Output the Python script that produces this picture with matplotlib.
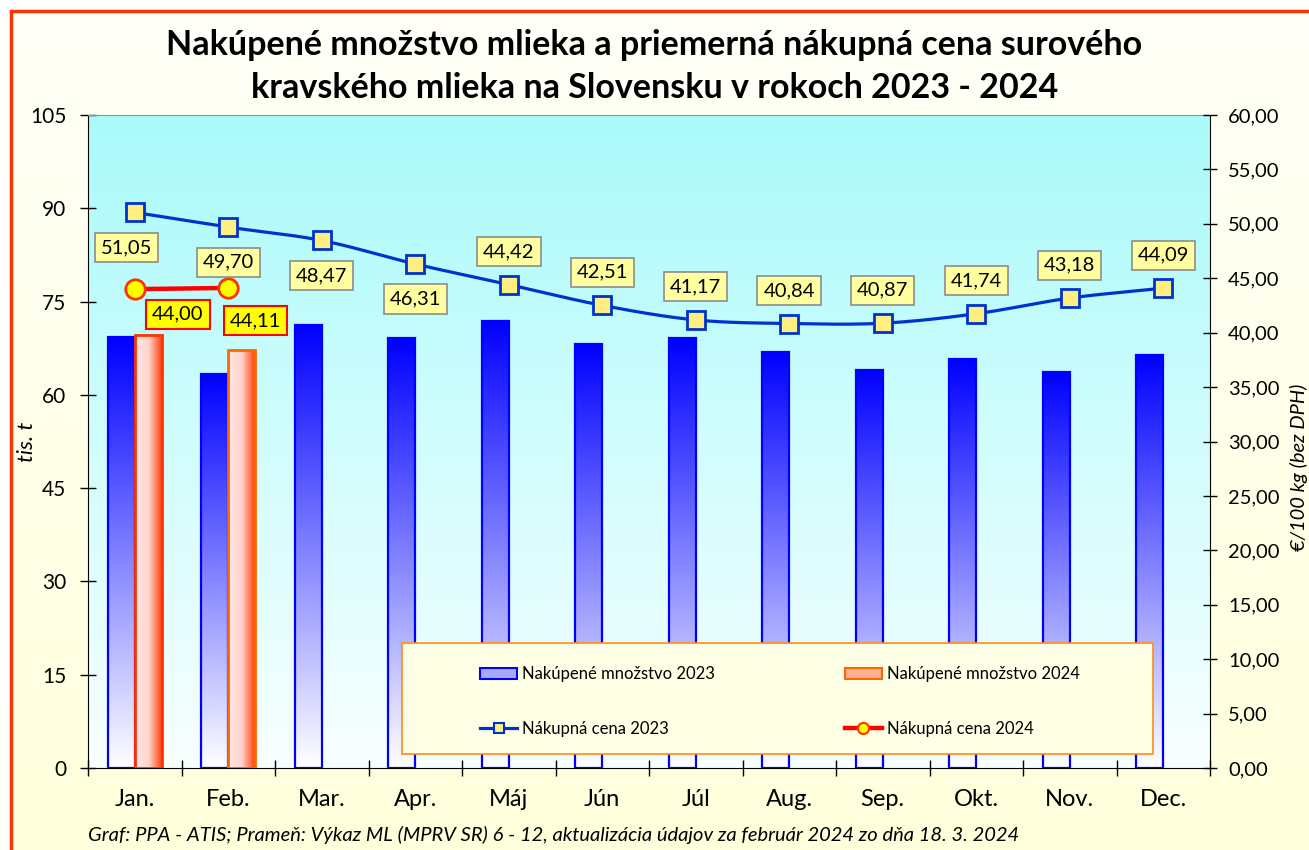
import numpy as np
import matplotlib
matplotlib.use("Agg")
import matplotlib.pyplot as plt
from matplotlib.colors import LinearSegmentedColormap
from matplotlib.patches import Rectangle, Patch
from matplotlib.lines import Line2D

plt.rcParams['font.family'] = ['Lato', 'DejaVu Sans']

months = ['Jan.', 'Feb.', 'Mar.', 'Apr.', 'Máj', 'Jún', 'Júl', 'Aug.', 'Sep.', 'Okt.', 'Nov.', 'Dec.']
qty_2023 = [69.3, 63.4, 71.2, 69.1, 71.9, 68.2, 69.1, 66.9, 64.0, 65.8, 63.7, 66.4]
qty_2024 = [69.6, 67.2]
price_2023 = [51.05, 49.70, 48.47, 46.31, 44.42, 42.51, 41.17, 40.84, 40.87, 41.74, 43.18, 44.09]
price_2024 = [44.00, 44.11]

W, H = 1309, 850
fig = plt.figure(figsize=(W / 100, H / 100), dpi=100, facecolor='white')

# figure background gradient + red frame
bg = fig.add_axes([0, 0, 1, 1], zorder=-5)
bg.axis('off')
bg_cmap = LinearSegmentedColormap.from_list('bg', ['#FFFFDC', '#FFFFF8'])
bg.imshow(np.linspace(0, 1, 256).reshape(-1, 1), cmap=bg_cmap, origin='lower',
          extent=[11 / W, 1, 0, 1 - 11 / H], aspect='auto')
bg.add_patch(Rectangle((11 / W, -0.01), 1, 1 - 11 / H + 0.01, fill=False,
                       edgecolor='#FF3300', lw=2.5, clip_on=False))
bg.set_xlim(0, 1)
bg.set_ylim(0, 1)

ax = fig.add_axes([88 / W, 1 - 768 / H, 1122 / W, 653 / H])
ax.patch.set_visible(False)
x = np.arange(12) + 0.5

# plot area gradient
area_cmap = LinearSegmentedColormap.from_list('area', ['#F8FFFF', '#AAFAFA'])
ax.imshow(np.linspace(0, 1, 256).reshape(-1, 1), cmap=area_cmap, origin='lower',
          extent=[0, 12, 0, 105], aspect='auto', zorder=0)

# bars
bw = 0.29
blue_cmap = LinearSegmentedColormap.from_list('blue', ['#FFFFFF', '#0000FF'])
red_cmap = LinearSegmentedColormap.from_list('red', [(0, '#FFE8E6'), (0.5, '#FFD2CA'), (1, '#FF3300')])
bars23 = ax.bar(x - bw / 2, qty_2023, width=bw, facecolor='none', edgecolor='#0000FF', lw=1.6, zorder=3)
for r in bars23:
    x0, h = r.get_x(), r.get_height()
    im = ax.imshow(np.linspace(0, 1, 256).reshape(-1, 1), cmap=blue_cmap, origin='lower',
                   extent=[x0, x0 + bw, 0, h], aspect='auto', zorder=2)
    im.set_clip_path(r)
bars24 = ax.bar(x[:2] + bw / 2, qty_2024, width=bw, facecolor='none', edgecolor=['#FF3300', '#FF6600'],
                lw=2, zorder=3)
for r in bars24:
    x0, h = r.get_x(), r.get_height()
    im = ax.imshow(np.linspace(0, 1, 256).reshape(1, -1), cmap=red_cmap, origin='lower',
                   extent=[x0, x0 + bw, 0, h], aspect='auto', zorder=2)
    im.set_clip_path(r)

ax.set_xlim(0, 12)
ax.set_ylim(0, 105)
ax.set_yticks(np.arange(0, 106, 15))
ax.set_xticks(np.arange(0, 13))
ax.set_xticklabels([])
ax.set_xticks(x, minor=True)
ax.set_xticklabels(months, minor=True, fontsize=17)
ax.tick_params(axis='x', which='major', direction='inout', length=11, width=1)
ax.tick_params(axis='x', which='minor', length=0, pad=15)
ax.tick_params(axis='y', direction='inout', length=11, width=1, labelsize=15, pad=10)
ax.set_ylabel('tis. t', fontsize=16, style='italic')
ax.yaxis.set_label_coords(-51 / 1122, 0.5)
for s in ['left', 'bottom']:
    ax.spines[s].set_color('black')
ax.spines['top'].set_color('#909090')
ax.spines['right'].set_visible(False)

ax2 = ax.twinx()
ax2.set_ylim(0, 60)
ax2.set_yticks(np.arange(0, 61, 5))
ax2.set_yticklabels([f'{v:.2f}'.replace('.', ',') for v in np.arange(0, 61, 5)])
ax2.tick_params(axis='y', direction='inout', length=10, width=1, labelsize=14.5, pad=8)
ax2.spines['top'].set_visible(False)
ax2.spines['left'].set_visible(False)
ax2.spines['bottom'].set_visible(False)
ax2.set_ylabel('€/100 kg (bez DPH)', fontsize=14.5, style='italic', rotation=90)
ax2.yaxis.set_label_coords(1202 / 1122, 0.46)


def smooth(xs, ys, n=24):
    pts = np.column_stack([xs, ys])
    p = np.vstack([2 * pts[0] - pts[1], pts, 2 * pts[-1] - pts[-2]])
    t = np.linspace(0, 1, n, endpoint=False)[:, None]
    out = []
    for i in range(1, len(p) - 2):
        p0, p1, p2, p3 = p[i - 1], p[i], p[i + 1], p[i + 2]
        out.append(0.5 * (2 * p1 + (p2 - p0) * t + (2 * p0 - 5 * p1 + 4 * p2 - p3) * t ** 2
                          + (3 * p1 - p0 - 3 * p2 + p3) * t ** 3))
    out.append(pts[-1:])
    return np.vstack(out)


c = smooth(x, price_2023)
ax2.plot(c[:, 0], c[:, 1], color='#0033CC', lw=2.3, zorder=4)
ax2.plot(x, price_2023, ls='none', marker='s', ms=12.5, mfc='#FFEF80', mec='#0033CC', mew=2, zorder=5)
ax2.plot(x[:2], price_2024, color='#FF0000', lw=3.2, zorder=4)
ax2.plot(x[:2], price_2024, ls='none', marker='o', ms=14, mfc='#FFFF00', mec='#FF3300', mew=2, zorder=5)

# data labels
below = [True, True, True, True] + [False] * 8
for i, (xi, v) in enumerate(zip(x, price_2023)):
    dx = -8 if i == 0 else 0
    dy = -35 if below[i] else 33
    ax2.annotate(f'{v:.2f}'.replace('.', ','), (xi, v), xytext=(dx, dy), textcoords='offset pixels',
                 ha='center', va='center', fontsize=14.5, zorder=6,
                 bbox=dict(boxstyle='square,pad=0.3', fc='#FFFFA0', ec='#8C8C8C', lw=1.2))
offs24 = [(43, -25), (27, -33)]
for (xi, v), (dx, dy) in zip(zip(x[:2], price_2024), offs24):
    ax2.annotate(f'{v:.2f}'.replace('.', ','), (xi, v), xytext=(dx, dy), textcoords='offset pixels',
                 ha='center', va='center', fontsize=14.5, zorder=6,
                 bbox=dict(boxstyle='square,pad=0.3', fc='#FFFF00', ec='#FF0000', lw=1.5))

# legend
ax2.add_patch(Rectangle((314 / 1122, 14 / 653), 751 / 1122, 111 / 653, transform=ax2.transAxes,
                        fc='#FFFFE6', ec='#FF8C1A', lw=1.2, zorder=7))
handles = [Patch(fc='#A8A8FF', ec='#0000FF', lw=1.5),
           Line2D([], [], color='#0033CC', lw=2.3, marker='s', ms=7, mfc='#FFEF80', mec='#0033CC', mew=1.5),
           Patch(fc='#FFB090', ec='#FF6600', lw=1.5),
           Line2D([], [], color='#FF0000', lw=3.2, marker='o', ms=8, mfc='#FFFF00', mec='#FF3300', mew=1.5)]
labels = ['Nakúpené množstvo 2023', 'Nákupná cena 2023', 'Nakúpené množstvo 2024', 'Nákupná cena 2024']
leg = ax2.legend(handles, labels, ncol=2, loc='upper left', bbox_to_anchor=(384 / 1122, 110 / 653),
                 frameon=False, fontsize=12, borderpad=0, handlelength=2.2, handletextpad=0.3,
                 labelspacing=2.3, columnspacing=7.8)
leg.set_zorder(8)

fig.text(0.5, 1 - 45 / H, 'Nakúpené množstvo mlieka a priemerná nákupná cena surového', ha='center',
         va='center', fontsize=24.5, fontweight='bold')
fig.text(0.5, 1 - 88 / H, 'kravského mlieka na Slovensku v rokoch 2023 - 2024', ha='center',
         va='center', fontsize=24.5, fontweight='bold')
fig.text(88 / W, 1 - 835 / H, 'Graf: PPA - ATIS; Prameň: Výkaz ML (MPRV SR) 6 - 12, aktualizácia údajov '
         'za február 2024 zo dňa 18. 3. 2024', ha='left', va='center', fontsize=14.5, style='italic')

fig.savefig('out.png', dpi=100, facecolor='white')
